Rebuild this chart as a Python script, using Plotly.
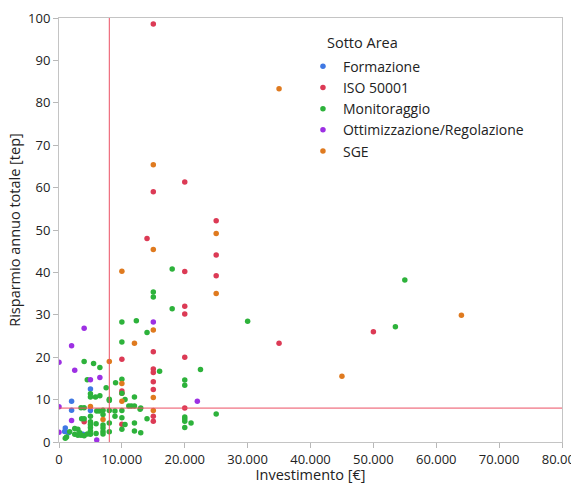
import plotly.graph_objects as go

# ---- data (Investimento [€], Risparmio annuo totale [tep]) ----
form_x = [2000, 2000, 5000, 5000, 1000, 900, 1500, 3800]
form_y = [9.6, 7.5, 12.5, 7.4, 3.3, 2.5, 2.2, 1.8]

iso_x = [15000, 20000, 15000, 25000, 14000, 25000, 20000, 25000, 20000, 20000,
         50000, 35000, 15000, 20000, 10000, 15000, 15000, 15000, 15000, 10000,
         10000, 20000, 15000, 15000, 10000, 4000]
iso_y = [98.6, 61.3, 59.0, 52.2, 48.0, 44.1, 40.2, 39.2, 32.0, 30.2,
         26.0, 23.3, 21.3, 20.0, 19.5, 17.2, 16.4, 14.2, 12.4, 12.0,
         11.5, 8.0, 6.1, 4.9, 4.2, 4.8]

mon_x = [18000, 55000, 15000, 15000, 18000, 30000, 10000, 12300, 53500, 14000,
         10000, 4000, 5500, 6500, 22500, 16000, 4500, 10000, 20000, 9000,
         20000, 7500, 5000, 5000, 5800, 6500, 12000, 8000, 10500, 10000,
         11100, 11500, 12000, 13000, 3500, 4000, 6000, 6400, 7000, 7000,
         8000, 8900, 10000, 12900, 8900, 5000, 10000, 14000, 3600, 4000,
         25000, 20000, 20000, 20000, 21000, 20000, 5000, 5000, 5000, 5000,
         5000, 5900, 5900, 7000, 7000, 7000, 7000, 8000, 8000, 8000,
         10000, 10500, 12000, 12000, 13000, 2500, 3000, 1700, 1200, 2500,
         3000, 3500, 4000, 4500, 3300, 1000]
mon_y = [40.8, 38.2, 35.4, 34.2, 31.4, 28.5, 28.3, 28.6, 27.2, 25.8,
         23.6, 19.0, 18.5, 17.6, 17.1, 16.7, 14.7, 14.8, 14.6, 14.0,
         13.4, 12.8, 11.4, 10.6, 10.6, 10.9, 10.6, 10.1, 10.0, 11.5,
         8.5, 8.5, 8.5, 8.0, 8.1, 8.1, 7.3, 7.3, 7.5, 6.5,
         7.4, 7.3, 7.4, 7.7, 6.1, 6.1, 5.7, 5.5, 5.5, 5.5,
         6.6, 5.9, 5.4, 4.9, 4.5, 3.4, 4.8, 4.1, 3.4, 2.6,
         1.8, 4.3, 2.0, 4.0, 3.3, 2.5, 1.9, 9.8, 4.5, 2.4,
         3.0, 4.1, 4.5, 2.6, 2.2, 3.2, 3.0, 2.4, 1.2, 1.8,
         1.6, 1.6, 1.5, 1.9, 2.2, 0.9]

ott_x = [15000, 4000, 2000, 0, 2500, 6500, 5000, 22000, 0, 2000, 0, 6000]
ott_y = [28.3, 26.8, 22.7, 18.8, 16.9, 15.2, 14.7, 9.6, 8.3, 5.1, 2.3, 0.5]

sge_x = [35000, 15000, 25000, 15000, 10000, 25000, 64000, 15000, 12000, 8000,
         45000, 10000, 15000, 10000, 5000, 15000, 7000]
sge_y = [83.3, 65.4, 49.2, 45.4, 40.3, 35.0, 29.9, 26.4, 23.3, 19.0,
         15.5, 13.8, 10.5, 9.6, 8.4, 7.4, 5.3]

ref_x = 8000
ref_y = 8

series = [
    ("Formazione", form_x, form_y, "#3f78e3"),
    ("ISO 50001", iso_x, iso_y, "#dc3a55"),
    ("Monitoraggio", mon_x, mon_y, "#2db23b"),
    ("Ottimizzazione/Regolazione", ott_x, ott_y, "#9d30e3"),
    ("SGE", sge_x, sge_y, "#df7a1f"),
]

FONT = "Open Sans"
fig = go.Figure()
for name, xs, ys, col in series:
    fig.add_trace(go.Scatter(x=xs, y=ys, mode="markers", name=name,
                             marker=dict(color=col, size=5.5, line=dict(width=0)),
                             cliponaxis=True))

line_col = "#ec4f63"
fig.add_shape(type="line", xref="x", yref="paper", x0=ref_x, x1=ref_x, y0=0, y1=1,
              line=dict(color=line_col, width=1))
fig.add_shape(type="line", xref="paper", yref="y", x0=0, x1=1, y0=ref_y, y1=ref_y,
              line=dict(color=line_col, width=1))

axis_common = dict(showline=True, linecolor="#c4c4c4", linewidth=1, mirror=True,
                   ticks="outside", ticklen=5, tickcolor="#b8b8b8",
                   showgrid=False, zeroline=False, automargin=False,
                   ticklabeloverflow="allow",
                   tickfont=dict(family=FONT, size=13, color="#222"))

fig.add_annotation(text="Sotto Area", xref="paper", yref="paper",
                   x=0.529, y=0.943, xanchor="left", yanchor="middle",
                   showarrow=False, font=dict(family=FONT, size=14.5, color="#222"))

fig.update_layout(
    width=571, height=484,
    margin=dict(l=59, r=9, t=18, b=42, pad=0),
    paper_bgcolor="white", plot_bgcolor="white",
    separators=",.",
    font=dict(family=FONT, color="#222"),
    xaxis=dict(range=[0, 80000], dtick=10000, tick0=0, tickformat=",",
               title=dict(text="Investimento [€]", font=dict(family=FONT, size=14.5), standoff=2),
               **axis_common),
    yaxis=dict(range=[0, 100], dtick=10, tick0=0,
               title=dict(text="Risparmio annuo totale [tep]", font=dict(family=FONT, size=14.5), standoff=4),
               **axis_common),
    legend=dict(x=0.485, y=0.923, xanchor="left", yanchor="top",
                font=dict(family=FONT, size=14), itemwidth=30,
                bgcolor="rgba(0,0,0,0)", tracegroupgap=0),
    showlegend=True,
)

fig.write_html("out.html", config={"displayModeBar": False},
               post_script="document.body.style.margin='0px';document.body.style.padding='0px';")
